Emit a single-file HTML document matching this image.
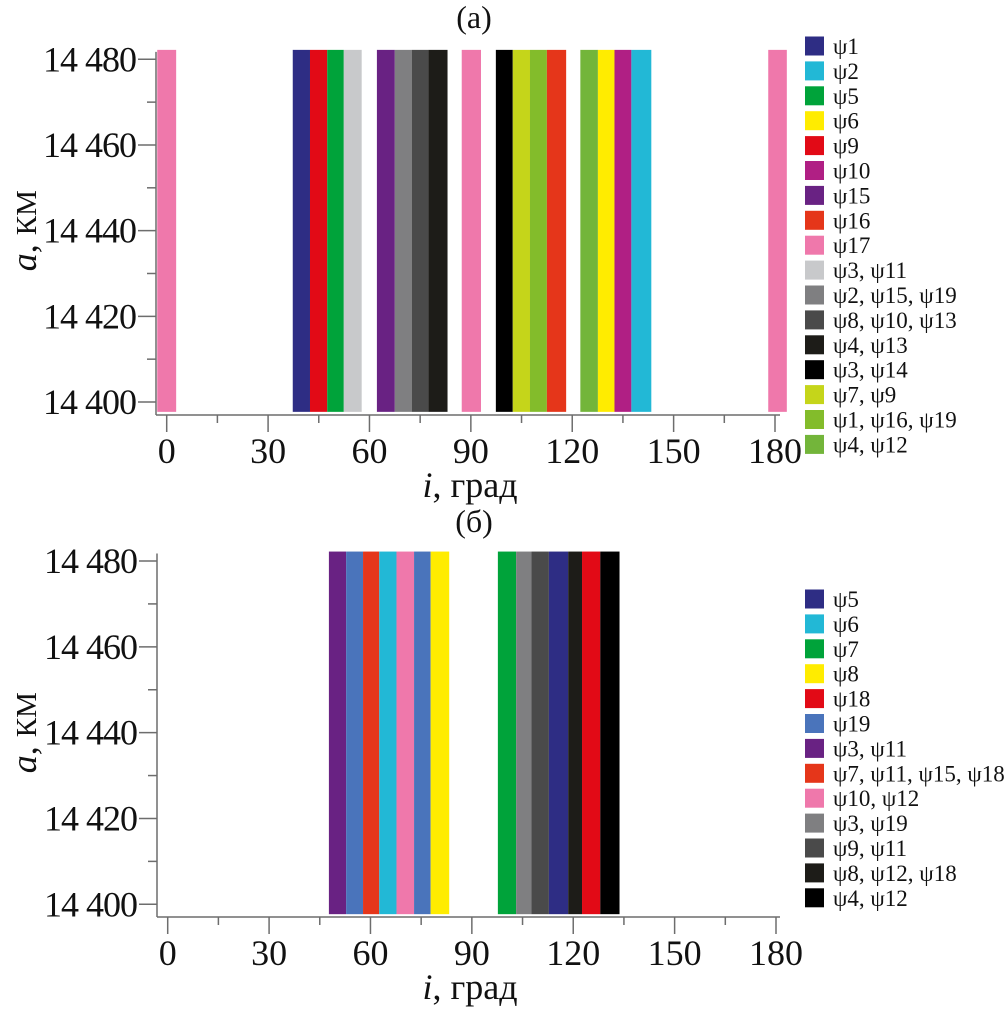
<!DOCTYPE html>
<html><head><meta charset="utf-8">
<style>
html,body{margin:0;padding:0;background:#fff;}
svg, svg text{font-family:"Liberation Serif","Times New Roman","DejaVu Serif",serif;}
</style></head>
<body>
<svg id="fig" width="1004" height="1008" viewBox="0 0 1004 1008" xmlns="http://www.w3.org/2000/svg" font-family="Liberation Serif, DejaVu Serif, serif"></svg>
<script>
// ---- panel (a) data ----
const aStarts = [-2.8, 37.3, 42.4, 47.5, 52.4, 62.2, 67.5, 72.5, 77.4, 87.3, 97.4, 102.4, 107.5, 112.5, 122.4, 127.6, 132.5, 137.5, 178];
const aEnds   = [2.8, 42.4, 47.5, 52.4, 57.7, 67.5, 72.5, 77.4, 83.1, 93, 102.4, 107.5, 112.5, 118.2, 127.6, 132.5, 137.5, 143.4, 183.5];
const aColors = ["#ef78ab","#2e2d84","#e20a16","#00a33a","#c8c9cb","#692283","#7f7f81","#4a4a4a","#1d1c18","#ef78ab","#000000","#c5d51a","#83bc2b","#e5361a","#73b53a","#ffec00","#b01f84","#22b8d6","#ef78ab"];
const aLegendLabels = ["ψ1","ψ2","ψ5","ψ6","ψ9","ψ10","ψ15","ψ16","ψ17","ψ3, ψ11","ψ2, ψ15, ψ19","ψ8, ψ10, ψ13","ψ4, ψ13","ψ3, ψ14","ψ7, ψ9","ψ1, ψ16, ψ19","ψ4, ψ12"];
const aLegendColors = ["#2e2d84","#22b8d6","#00a33a","#ffec00","#e20a16","#b01f84","#692283","#e5361a","#ef78ab","#c8c9cb","#7f7f81","#4a4a4a","#1d1c18","#000000","#c5d51a","#83bc2b","#73b53a"];
// ---- panel (б) data ----
const bStarts = [47.7, 52.8, 57.8, 62.6, 67.7, 72.9, 77.8, 97.7, 103.1, 107.6, 112.8, 118.5, 122.6, 128];
const bEnds   = [52.8, 57.8, 62.6, 67.7, 72.9, 77.8, 83.3, 103.1, 107.6, 112.8, 118.5, 122.6, 128, 133.7];
const bColors = ["#692283","#4a74bb","#e5361a","#22b8d6","#ef78ab","#4a74bb","#ffec00","#00a33a","#7f7f81","#4a4a4a","#2e2d84","#1d1c18","#e20a16","#000000"];
const bLegendLabels = ["ψ5","ψ6","ψ7","ψ8","ψ18","ψ19","ψ3, ψ11","ψ7, ψ11, ψ15, ψ18","ψ10, ψ12","ψ3, ψ19","ψ9, ψ11","ψ8, ψ12, ψ18","ψ4, ψ12"];
const bLegendColors = ["#2e2d84","#22b8d6","#00a33a","#ffec00","#e20a16","#4a74bb","#692283","#e5361a","#ef78ab","#7f7f81","#4a4a4a","#1d1c18","#000000"];
// ---- shared axis data ----
const xTicks = [0, 30, 60, 90, 120, 150, 180];
const xMinor = [15, 45, 75, 105, 135, 165];
const yTicks = [14400, 14420, 14440, 14460, 14480];
const yTickLabels = ["14 400","14 420","14 440","14 460","14 480"];
const yMinor = [14410, 14430, 14450, 14470];
const barLow = 14397.7, barHigh = 14482.2;

const NS = "http://www.w3.org/2000/svg";
const FONT = "Liberation Serif, DejaVu Serif, serif";
const svg = document.getElementById("fig");
function el(tag, attrs, parent){
  const e = document.createElementNS(NS, tag);
  for (const k in attrs) e.setAttribute(k, attrs[k]);
  if (tag === "text") e.setAttribute("font-family", FONT);
  (parent || svg).appendChild(e);
  return e;
}

function panel(cfg){
  const g = el("g", {});
  
  
  const X = d => cfg.x0 + d * (cfg.x180 - cfg.x0) / 180;
  const Y = v => cfg.y400 + (v - 14400) * (cfg.y480 - cfg.y400) / 80;
  const t = el("text", {x: 474, y: cfg.titleY, "font-size": 32, "text-anchor": "middle", fill: "#111"}, g);
  t.textContent = cfg.title;
  
  
  for (let i = 0; i < cfg.starts.length; i++){
    const x1 = X(cfg.starts[i]), x2 = X(cfg.ends[i]);
    const r = el("rect", {x: x1, y: Y(barHigh), width: x2 - x1, height: Y(barLow) - Y(barHigh), fill: cfg.colors[i]}, g);
    
    
  }
  const axisY = cfg.axisY, axisX = cfg.axisX;
  const ax = el("line", {x1: axisX, y1: axisY, x2: 780, y2: axisY, stroke: "#6d6d6d", "stroke-width": 1.5}, g);
  
  
  const ay = el("line", {x1: axisX, y1: Y(barHigh) + 2, x2: axisX, y2: axisY, stroke: "#6d6d6d", "stroke-width": 1.5}, g);
  
  
  xTicks.forEach(d => {
    const tk = el("line", {x1: X(d), y1: axisY, x2: X(d), y2: axisY + 17, stroke: "#6d6d6d", "stroke-width": 1.5}, g);
    
    
    const lb = el("text", {x: X(d), y: axisY + 48, "font-size": 36, "text-anchor": "middle", fill: "#111"}, g);
    lb.textContent = d;
    
    
  });
  xMinor.forEach(d => {
    const tk = el("line", {x1: X(d), y1: axisY, x2: X(d), y2: axisY + 8, stroke: "#6d6d6d", "stroke-width": 1.5}, g);
    
    
  });
  yTicks.forEach((v, i) => {
    const tk = el("line", {x1: axisX - 18, y1: Y(v), x2: axisX, y2: Y(v), stroke: "#6d6d6d", "stroke-width": 1.5}, g);
    
    
    const lb = el("text", {x: axisX - 20, y: Y(v) + 12, "font-size": 36, "text-anchor": "end", fill: "#111", "letter-spacing": "-1"}, g);
    lb.textContent = yTickLabels[i];
    
    
  });
  yMinor.forEach(v => {
    const tk = el("line", {x1: axisX - 9, y1: Y(v), x2: axisX, y2: Y(v), stroke: "#6d6d6d", "stroke-width": 1.5}, g);
    
    
  });
  const xt = el("text", {x: 470, y: axisY + 82, "font-size": 36, "text-anchor": "middle", fill: "#111"}, g);
  xt.innerHTML = '<tspan font-style="italic">i</tspan>, град';
  
  
  const cy = (Y(14480) + Y(14400)) / 2;
  const yt = el("text", {x: 0, y: 0, "font-size": 36, "text-anchor": "middle", fill: "#111", transform: `translate(36 ${cy}) rotate(-90)`}, g);
  yt.innerHTML = '<tspan font-style="italic">a</tspan>, <tspan font-size="29">КМ</tspan>';
  
  
  const lg = el("g", {}, g);
  
  
  cfg.legLabels.forEach((lab, i) => {
    const yy = cfg.legY0 + i * 24.9;
    const sw = el("rect", {x: 805, y: yy - 9.5, width: 19, height: 19, fill: cfg.legColors[i]}, lg);
    
    
    const tx = el("text", {x: 833, y: yy + 8, "font-size": 23, fill: "#111"}, lg);
    tx.textContent = lab;
    
    
  });
}

panel({name: "panel-a", title: "(a)", titleY: 28, starts: aStarts, ends: aEnds, colors: aColors,
  x0: 166.7, x180: 775, y480: 59.3, y400: 402, axisY: 415, axisX: 156,
  legLabels: aLegendLabels, legColors: aLegendColors, legY0: 46});
panel({name: "panel-b", title: "(б)", titleY: 532, starts: bStarts, ends: bEnds, colors: bColors,
  x0: 167.7, x180: 776, y480: 561, y400: 904.3, axisY: 917, axisX: 157,
  legLabels: bLegendLabels, legColors: bLegendColors, legY0: 599});
</script>
</body></html>
